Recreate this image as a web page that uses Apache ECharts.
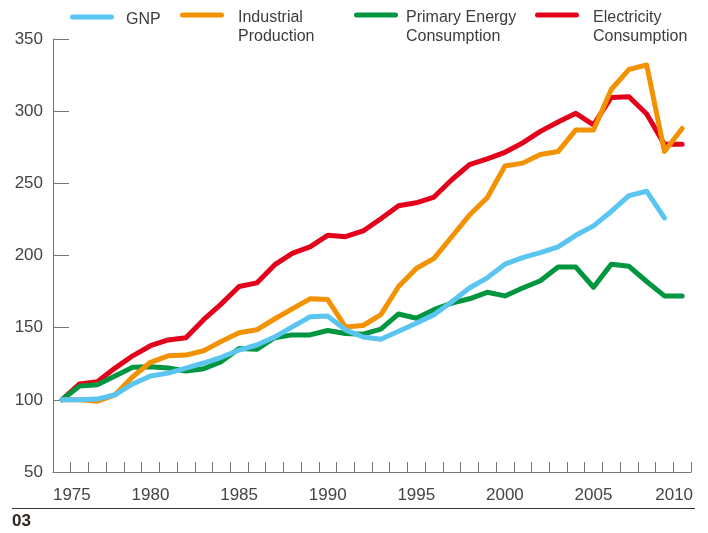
<!DOCTYPE html>
<html>
<head>
<meta charset="utf-8">
<script src="https://cdn.jsdelivr.net/npm/echarts@6.0.0/dist/echarts.min.js"></script>
<style>
html,body{margin:0;padding:0;background:#fff;}
#main{width:708px;height:533px;}
</style>
</head>
<body>
<div id="main"></div>
<script>
// years on the x axis
var years = ['1975','1976','1977','1978','1979','1980','1981','1982','1983','1984',
	'1985','1986','1987','1988','1989','1990','1991','1992','1993','1994',
	'1995','1996','1997','1998','1999','2000','2001','2002','2003','2004',
	'2005','2006','2007','2008','2009','2010'];

// index values, 1975 = 100
var gnp = [100,100,100.5,103.5,111,116.5,118.5,122,125.5,129.5,
	134.5,138,143.5,150.5,157.5,158,148.5,143.5,142,147.5,
	153,159,168,177.5,184.5,194,198.5,202,206,214,
	220.5,230.5,241.5,244.5,226,null];
var industrial = [100,100,99,103.5,116,126,130.5,131,134,140.5,
	146.5,148.5,156,163,170,169.5,150.5,151.5,159,178.5,
	191,198,213,228,240,262,264,270,272,287,
	287,315,329,332,272,288];
var energy = [100,109.5,110.5,116.5,122.5,123,122,120,121.5,126.5,
	135.5,135,143,145,145,148,146,145.5,149,159.5,
	156.5,162.5,167,170,174.5,172,177.5,182.5,192,192,
	178,194,192.5,182,172,172];
var electricity = [100,111,112.5,122,130.5,137.5,141.5,143,155.5,166.5,
	178.5,181,193.5,201.5,206,214,213,217,225.5,234.5,
	236.5,240.5,252.5,263,267,271.5,278,286,292.5,298.5,
	290.5,309.5,310,298,277,277];

var yTicks = [50,100,150,200,250,300,350];

var names = ['GNP','Industrial Production','Primary Energy Consumption','Electricity Consumption'];
var labels = [['GNP'],['Industrial','Production'],['Primary Energy','Consumption'],['Electricity','Consumption']];
var colors = ['#5bc5f1','#f39200','#009640','#e3001b'];

var font = 'Liberation Sans, Arial, sans-serif';
var icon = 'path://M2.5,0 H41.5 A2.5,2.5 0 0 1 41.5,5 H2.5 A2.5,2.5 0 0 1 2.5,0 Z';

// one legend per entry so each can sit where it is in the picture
// a blank spacer line on top keeps the first text line level with the icon
var legLeft = [70,180,354,535];
var legGap = [7,9,3,9];
var legends = [];
for (var i = 0; i < names.length; i++) {
	var twoLines = labels[i].length > 1;
	legends.push({
		data: [names[i]],
		left: legLeft[i],
		top: twoLines ? -12 : 5,
		padding: 0,
		icon: icon,
		itemWidth: 44,
		itemHeight: 5,
		selectedMode: false,
		formatter: function (n) {
			var l = labels[names.indexOf(n)];
			if (l.length > 1) return '{s| }\n{t|' + l.join('}\n{t|') + '}';
			return '{g| }\n{t|' + l[0] + '}';
		},
		textStyle: {
			color: '#3c3c3c',
			fontFamily: font,
			fontSize: 16,
			padding: [0, 0, 0, legGap[i]],
			rich: {
				s: { lineHeight: 24, fontSize: 16 },
				g: { lineHeight: 5, fontSize: 5 },
				t: { lineHeight: 19, fontSize: 16, fontFamily: font, color: '#3c3c3c' }
			}
		}
	});
}

function lineSeries(name, data, color) {
	return {
		name: name,
		type: 'line',
		data: data,
		symbol: 'none',
		showSymbol: false,
		smooth: false,
		connectNulls: false,
		color: color,
		lineStyle: { width: 5, color: color, cap: 'round', join: 'round' },
		emphasis: { disabled: true }
	};
}

var myChart = echarts.init(document.getElementById('main'), null, {renderer: 'canvas'});

var option = {
	animation: false,
	backgroundColor: '#fff',
	legend: legends,
	grid: { left: 53, right: 17, top: 39, bottom: 61, containLabel: false },
	xAxis: {
		type: 'category',
		data: years,
		boundaryGap: true,
		axisLine: { show: true, lineStyle: { color: '#777', width: 1 } },
		axisTick: { show: true, inside: true, length: 10, interval: 0, lineStyle: { color: '#777' } },
		axisLabel: {
			interval: function (idx) { return idx % 5 === 0 || idx === years.length - 1; },
			margin: 15,
			color: '#444',
			fontFamily: font,
			fontSize: 17,
			formatter: function (v) {
				if (v === years[0]) return '{first|' + v + '}';
				if (v === years[years.length - 1]) return '{last|' + v + '}';
				return v;
			},
			rich: {
				first: { fontFamily: font, fontSize: 17, color: '#444', padding: [0, 0, 0, 20] },
				last: { fontFamily: font, fontSize: 17, color: '#444', padding: [0, 16, 0, 0] }
			}
		},
		splitLine: { show: false }
	},
	yAxis: {
		type: 'value',
		min: yTicks[0],
		max: yTicks[yTicks.length - 1],
		interval: 50,
		axisLine: { show: true, lineStyle: { color: '#777', width: 1 } },
		axisTick: { show: true, inside: true, length: 16, lineStyle: { color: '#777' } },
		axisLabel: { margin: 10, color: '#444', fontFamily: font, fontSize: 17 },
		splitLine: { show: false }
	},
	// draw order: red at the back, cyan on top
	series: [
		lineSeries(names[3], electricity, colors[3]),
		lineSeries(names[2], energy, colors[2]),
		lineSeries(names[1], industrial, colors[1]),
		lineSeries(names[0], gnp, colors[0])
	],
	graphic: [
		{ type: 'line', shape: { x1: 12, y1: 508.5, x2: 695, y2: 508.5 }, style: { stroke: '#3d3229', lineWidth: 1.2 } },
		{ type: 'text', left: 12, top: 513, style: { text: '03', fill: '#2e2520', font: 'bold 17px ' + font } }
	]
};

myChart.setOption(option);
</script>
</body>
</html>
